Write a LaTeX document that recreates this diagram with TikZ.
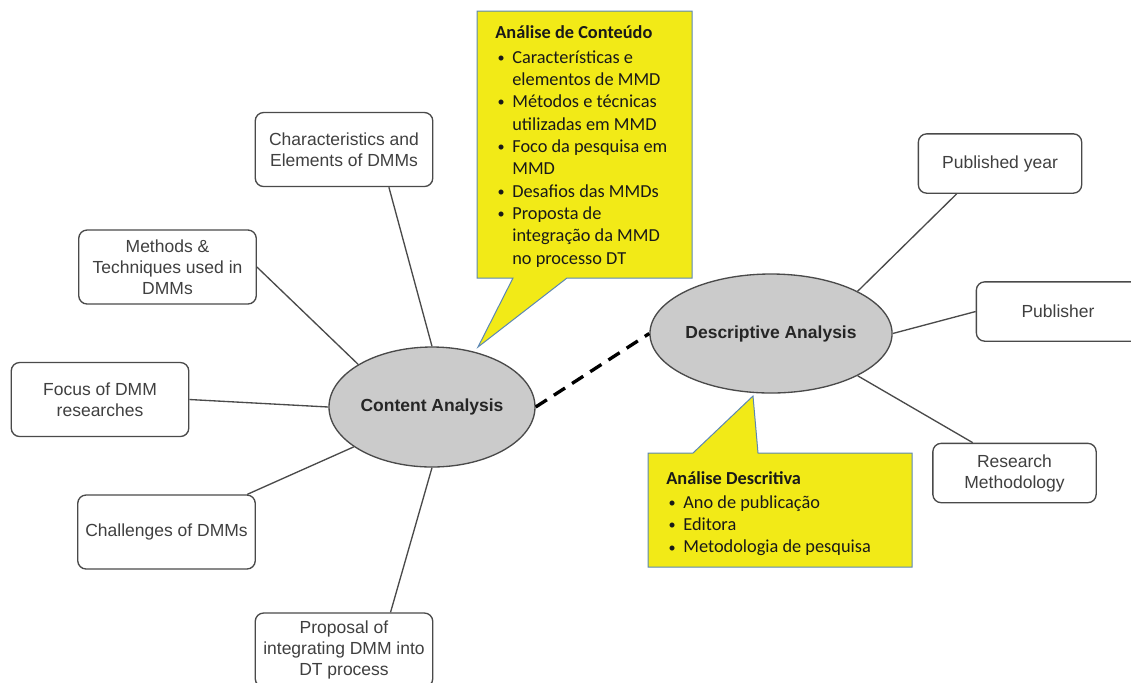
\documentclass[tikz,border=0pt]{standalone}
\usepackage{fontspec}
\setmainfont{Liberation Sans}
\newfontfamily\notefont{Carlito}
\usetikzlibrary{shapes.geometric}

\definecolor{boxline}{HTML}{4A4A4A}
\definecolor{boxtext}{HTML}{404040}
\definecolor{hubfill}{HTML}{CBCBCB}
\definecolor{hubtext}{HTML}{262626}
\definecolor{notefill}{HTML}{F2EA17}
\definecolor{noteline}{HTML}{5B87B4}

\newcommand{\bul}{\makebox[10.2pt][l]{\hspace{1.4pt}\raisebox{0.1ex}{\fontsize{8.5}{8.5}\selectfont\textbullet}}}
\newcommand{\ind}{\hspace*{10.2pt}}

\tikzset{
	topic/.style={draw=boxline, line width=0.8pt, rounded corners=5pt, fill=white, text=boxtext,
		align=center, inner sep=0pt, minimum width=106.5pt, minimum height=44.4pt,
		font=\fontsize{10.5}{12.6}\selectfont},
	smalltopic/.style={topic, minimum width=98pt, minimum height=35.6pt},
	hub/.style={ellipse, draw=boxline, line width=0.8pt, fill=hubfill, inner sep=0pt, text=hubtext,
		font=\bfseries\fontsize{10.5}{12.6}\selectfont},
	link/.style={draw=boxline, line width=0.8pt},
	dashlink/.style={draw=black, line width=2pt, dash pattern=on 8pt off 5pt},
	balloon/.style={fill=notefill, draw=noteline, line width=0.6pt},
	notetext/.style={align=left, inner sep=0pt, anchor=north west, text=black!90,
		font=\notefont\fontsize{11}{13.4}\selectfont}
}

\begin{document}
\begin{tikzpicture}[x=0.6pt,y=-0.6pt]
	\useasboundingbox (0,0) rectangle (1131,682);
	\clip (0,0) rectangle (1131,682);

	\node[hub, minimum width=123.6pt, minimum height=72pt] (content) at (432,407) {Content Analysis};
	\node[hub, minimum width=141.6pt, minimum height=71.4pt] (desc) at (771,333.5) {Descriptive Analysis};

	\node[topic] (char) at (344,149.5) {Characteristics and\\Elements of DMMs};
	\node[topic] (meth) at (167.5,267) {Methods \&\\Techniques used in\\DMMs};
	\node[topic] (focus) at (100,399.5) {Focus of DMM\\researches};
	\node[topic] (chall) at (166.5,532) {Challenges of DMMs};
	\node[topic] (prop) at (344,650) {Proposal of\\integrating DMM into\\DT process};

	\node[smalltopic] (pub) at (1000,163.5) {Published year};
	\node[smalltopic] (publ) at (1058,311.5) {Publisher};
	\node[smalltopic] (res) at (1014.5,473) {Research\\Methodology};

	\draw[link] (char.-40) -- (content.north);
	\draw[link] (meth.east) -- (content.150);
	\draw[link] (focus.east) -- (content.west);
	\draw[link] (chall.25) -- (content.207);
	\draw[link] (prop.39) -- (content.south);

	\draw[link] (pub.215) -- (desc.26);
	\draw[link] (publ.west) -- (desc.east);
	\draw[link] (res.144) -- (desc.-26);

	\draw[dashlink] (content.east) -- (desc.west);

	\draw[balloon] (477,11) -- (692,11) -- (692,278) -- (567,278) -- (478,347) -- (513,278) -- (477,278) -- cycle;
	\node[notetext] (conteudo) at (495,25) {\textbf{Análise de Conteúdo}\\[1.5pt]
		\bul Características e\\ \ind elementos de MMD\\
		\bul Métodos e técnicas\\ \ind utilizadas em MMD\\
		\bul Foco da pesquisa em\\ \ind MMD\\
		\bul Desafios das MMDs\\
		\bul Proposta de\\ \ind integração da MMD\\ \ind no processo DT};

	\draw[balloon] (648,453) -- (693,453) -- (753,396) -- (758,453) -- (912,453) -- (912,567) -- (648,567) -- cycle;
	\node[notetext] (descritiva) at (666,471) {\textbf{Análise Descritiva}\\[1pt]
		\bul Ano de publicação\\
		\bul Editora\\
		\bul Metodologia de pesquisa};
\end{tikzpicture}
\end{document}
